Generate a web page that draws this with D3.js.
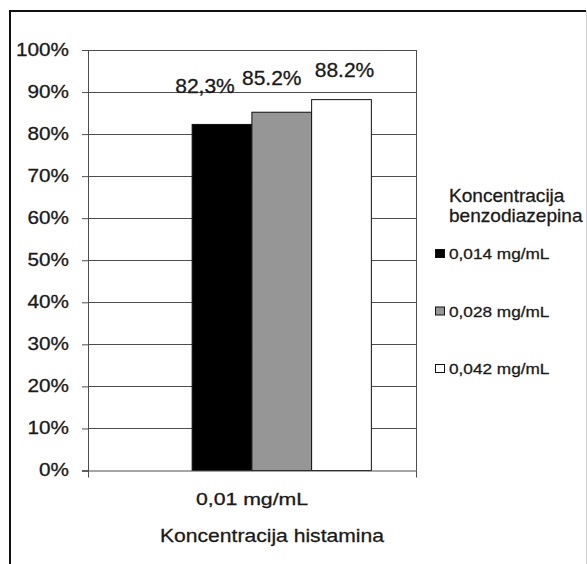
<!DOCTYPE html>
<html>
<head>
<meta charset="utf-8">
<script src="https://cdn.jsdelivr.net/npm/d3@7"></script>
<style>
  html, body { margin: 0; padding: 0; background: #fff; }
  svg { display: block; }
  text { font-family: "Liberation Sans", Arial, sans-serif; fill: #1a1a1a; stroke: #1a1a1a; stroke-width: 0.3px; }
</style>
</head>
<body>
<svg id="chart" width="587" height="564"></svg>
<script>
// ---- data ----
const categories = ["0,01 mg/mL"];
const seriesNames = ["0,014 mg/mL", "0,028 mg/mL", "0,042 mg/mL"];
const seriesValues = [82.3, 85.2, 88.2];           // % for the single category
const valueLabels = ["82,3%", "85.2%", "88.2%"];
const yTicks = [0, 10, 20, 30, 40, 50, 60, 70, 80, 90, 100];
const xTitle = "Koncentracija histamina";
const legendTitle = ["Koncentracija", "benzodiazepina"];

// ---- style ----
const colors = ["#000000", "#969696", "#ffffff"];
const plot = { left: 88, right: 416, top: 50, bottom: 470.5 };
const gridColor = "#4d4d4d";

const svg = d3.select("#chart");

// outer frame: heavy top/left, faint right
svg.append("path")
  .attr("d", "M10,564V11H586")
  .attr("fill", "none").attr("stroke", "#111").attr("stroke-width", 2);
svg.append("line")
  .attr("x1", 586.5).attr("x2", 586.5).attr("y1", 11).attr("y2", 564)
  .attr("stroke", "#d0d0d0").attr("stroke-width", 1);

const y = d3.scaleLinear().domain([0, 100]).range([plot.bottom, plot.top]);
const x0 = d3.scaleBand().domain(categories).range([plot.left, plot.right]).padding(0);
const x1 = d3.scaleBand().domain(seriesNames)
  .range([0, x0.bandwidth()]).paddingInner(0).paddingOuter(1.245).align(0.70);

function stretch(sel, factor) {
  sel.each(function() {
    const w = this.getComputedTextLength();
    d3.select(this).attr("textLength", w * factor).attr("lengthAdjust", "spacingAndGlyphs");
  });
}

// gridlines
svg.append("g").selectAll("line").data(yTicks.filter(d => d > 0)).join("line")
  .attr("x1", plot.left).attr("x2", plot.right)
  .attr("y1", d => Math.round(y(d)) + 0.5).attr("y2", d => Math.round(y(d)) + 0.5)
  .attr("stroke", gridColor).attr("stroke-width", 1);

// y axis
const yAxis = svg.append("g")
  .attr("transform", `translate(${plot.left},0)`)
  .call(d3.axisLeft(y).tickValues(yTicks).tickSize(6).tickPadding(13).tickFormat(d => d + "%"));
yAxis.select(".domain").attr("stroke", gridColor);
yAxis.selectAll(".tick line").attr("stroke", gridColor);
yAxis.selectAll(".tick text")
  .attr("font-size", 18).attr("font-family", "Liberation Sans, Arial, sans-serif")
  .attr("fill", "#1a1a1a").attr("dy", "0.30em");
yAxis.selectAll(".tick text").call(stretch, 1.15);

// right border of plot area
svg.append("line")
  .attr("x1", plot.right + 0.5).attr("x2", plot.right + 0.5)
  .attr("y1", plot.top).attr("y2", plot.bottom)
  .attr("stroke", gridColor);

// bars
const g = svg.append("g").attr("transform", `translate(${x0(categories[0])},0)`);
g.selectAll("rect").data(seriesValues).join("rect")
  .attr("x", (d, i) => x1(seriesNames[i]))
  .attr("y", d => y(d))
  .attr("width", x1.bandwidth())
  .attr("height", d => y(0) - y(d))
  .attr("fill", (d, i) => colors[i])
  .attr("stroke", "#111").attr("stroke-width", 1);

// value labels (hand-placed in the original)
const labelNudge = [[-17, -31], [-10, -27], [3, -23]];
g.selectAll("text.val").data(seriesValues).join("text")
  .attr("class", "val")
  .attr("x", (d, i) => x1(seriesNames[i]) + x1.bandwidth() / 2 + labelNudge[i][0])
  .attr("y", (d, i) => y(d) + labelNudge[i][1])
  .attr("text-anchor", "middle").attr("font-size", 20)
  .text((d, i) => valueLabels[i])
  .call(stretch, 1.05);

// x axis
const xAxis = svg.append("g")
  .attr("transform", `translate(0,${plot.bottom})`)
  .call(d3.axisBottom(x0).tickSize(0).tickPadding(22));
xAxis.select(".domain").attr("stroke", gridColor).attr("d", `M${plot.left - 6},0.5H${plot.right + 0.5}`);
xAxis.selectAll(".tick text")
  .attr("font-size", 17).attr("font-family", "Liberation Sans, Arial, sans-serif")
  .attr("fill", "#1a1a1a").attr("dy", "0.71em");
xAxis.selectAll(".tick text").call(stretch, 1.25);
// category boundary ticks
svg.append("g").selectAll("line").data([plot.left, plot.right]).join("line")
  .attr("x1", d => d + 0.5).attr("x2", d => d + 0.5)
  .attr("y1", plot.bottom).attr("y2", plot.bottom + 7)
  .attr("stroke", gridColor);

// x title
svg.append("text")
  .attr("x", 272).attr("y", 542).attr("text-anchor", "middle")
  .attr("font-size", 18.5).text(xTitle)
  .call(stretch, 1.14);

// legend
const leg = svg.append("g");
leg.selectAll("text.lt").data(legendTitle).join("text")
  .attr("class", "lt")
  .attr("x", 449).attr("y", (d, i) => 202 + i * 20)
  .attr("font-size", 18.5).text(d => d)
  .call(stretch, 1.03);
const items = leg.selectAll("g.item").data(seriesNames).join("g")
  .attr("class", "item")
  .attr("transform", (d, i) => `translate(435,${259 + i * 57.5})`);
items.append("rect")
  .attr("x", 0.5).attr("y", -9.5).attr("width", 9).attr("height", 8)
  .attr("fill", (d, i) => colors[i]).attr("stroke", "#111").attr("stroke-width", 1);
items.append("text")
  .attr("x", 14).attr("y", 0).attr("font-size", 15.5).text(d => d)
  .call(stretch, 1.11);
</script>
</body>
</html>
